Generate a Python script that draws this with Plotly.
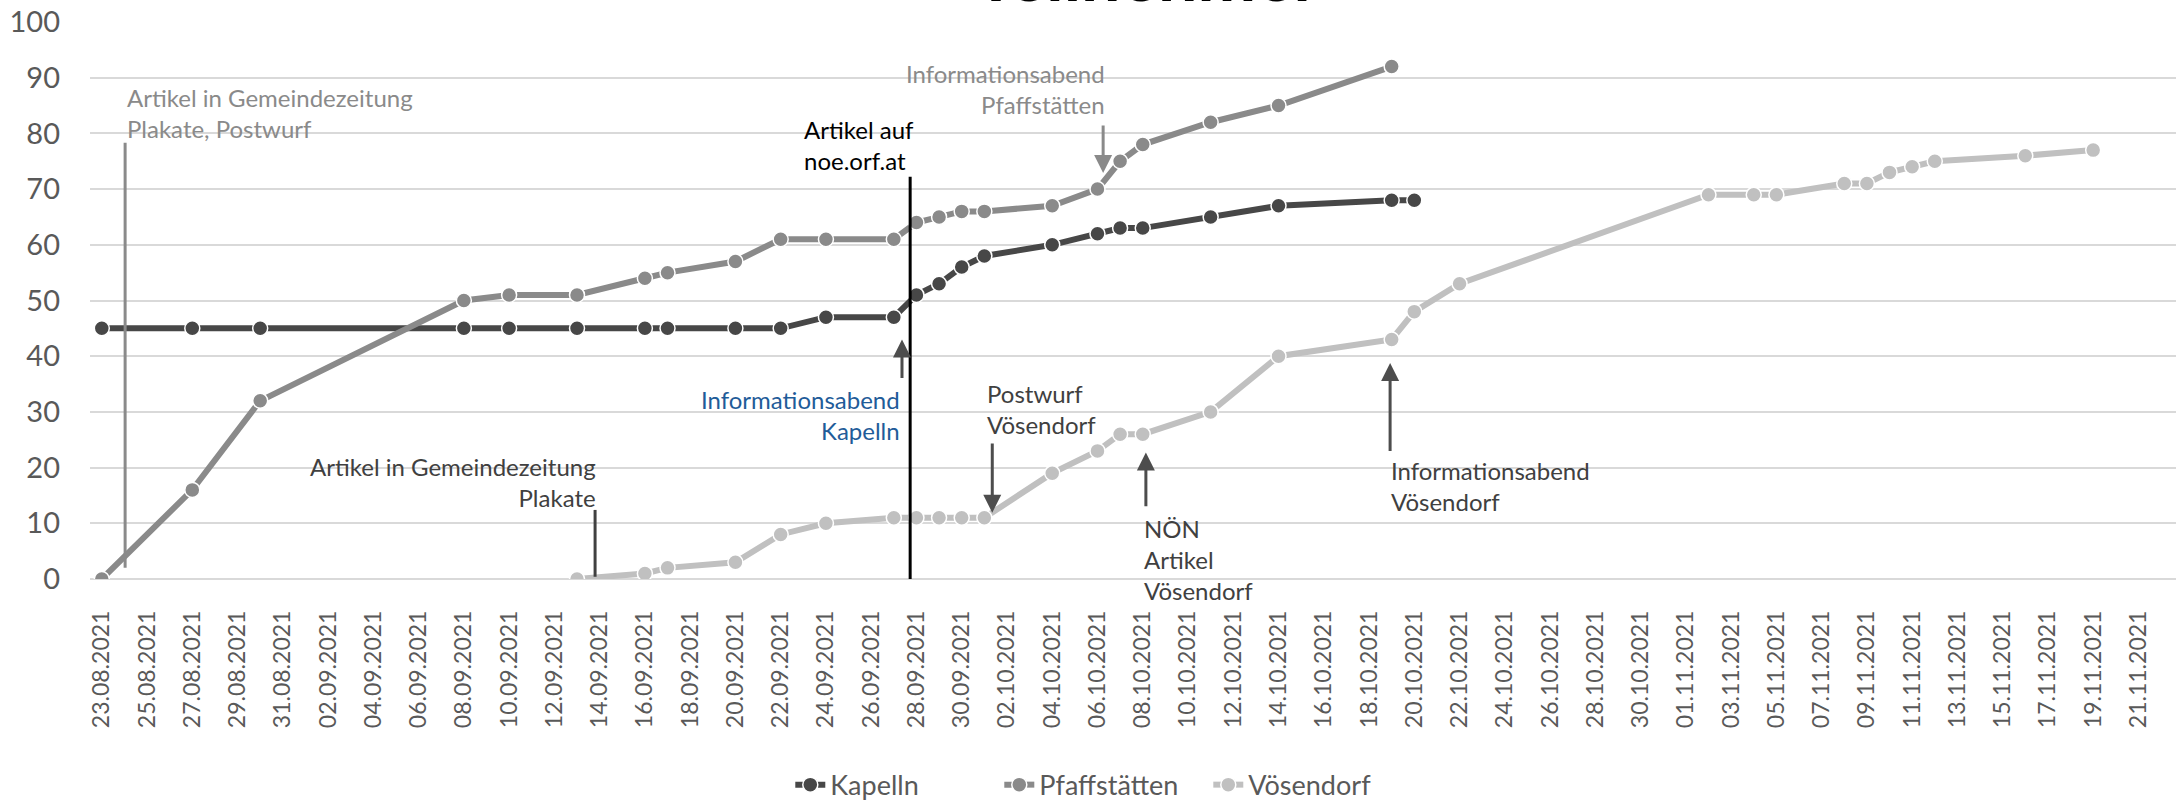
import plotly.graph_objects as go

kapelln_dates = ["2021-08-23", "2021-08-27", "2021-08-30", "2021-09-08", "2021-09-10", "2021-09-13",
                 "2021-09-16", "2021-09-17", "2021-09-20", "2021-09-22", "2021-09-24", "2021-09-27",
                 "2021-09-28", "2021-09-29", "2021-09-30", "2021-10-01", "2021-10-04", "2021-10-06",
                 "2021-10-07", "2021-10-08", "2021-10-11", "2021-10-14", "2021-10-19", "2021-10-20"]
kapelln_values = [45, 45, 45, 45, 45, 45, 45, 45, 45, 45, 47, 47, 51, 53, 56, 58, 60, 62, 63, 63, 65, 67, 68, 68]

pfaff_dates = ["2021-08-23", "2021-08-27", "2021-08-30", "2021-09-08", "2021-09-10", "2021-09-13",
               "2021-09-16", "2021-09-17", "2021-09-20", "2021-09-22", "2021-09-24", "2021-09-27",
               "2021-09-28", "2021-09-29", "2021-09-30", "2021-10-01", "2021-10-04", "2021-10-06",
               "2021-10-07", "2021-10-08", "2021-10-11", "2021-10-14", "2021-10-19"]
pfaff_values = [0, 16, 32, 50, 51, 51, 54, 55, 57, 61, 61, 61, 64, 65, 66, 66, 67, 70, 75, 78, 82, 85, 92]

voes_dates = ["2021-09-13", "2021-09-16", "2021-09-17", "2021-09-20", "2021-09-22", "2021-09-24",
              "2021-09-27", "2021-09-28", "2021-09-29", "2021-09-30", "2021-10-01", "2021-10-04",
              "2021-10-06", "2021-10-07", "2021-10-08", "2021-10-11", "2021-10-14", "2021-10-19",
              "2021-10-20", "2021-10-22", "2021-11-02", "2021-11-04", "2021-11-05", "2021-11-08",
              "2021-11-09", "2021-11-10", "2021-11-11", "2021-11-12", "2021-11-16", "2021-11-19"]
voes_values = [0, 1, 2, 3, 8, 10, 11, 11, 11, 11, 11, 19, 23, 26, 26, 30, 40, 43, 48, 53,
               69, 69, 69, 71, 71, 73, 74, 75, 76, 77]

series_names = ["Kapelln", "Pfaffstätten", "Vösendorf"]
series_colors = ["#474747", "#8a8a8a", "#c0c0c0"]

FONT = "Lato"
TXT = "#595959"

fig = go.Figure()
for name, xs, ys, col in zip(series_names, [kapelln_dates, pfaff_dates, voes_dates],
                             [kapelln_values, pfaff_values, voes_values], series_colors):
    fig.add_trace(go.Scatter(
        x=xs, y=ys, name=name, mode="lines+markers",
        line=dict(color=col, width=6),
        marker=dict(color=col, size=15, line=dict(color="white", width=1.5)),
    ))

# text annotations: (text, x, y, xanchor, align, color)
notes = [
    ("Artikel in Gemeindezeitung<br>Plakate, Postwurf", "2021-08-24 00:45", 83.6, "left", "left", "#8a8a8a"),
    ("Artikel auf<br>noe.orf.at", "2021-09-22 22:48", 78.0, "left", "left", "#000000"),
    ("Informationsabend<br>Pfaffstätten", "2021-10-06 10:00", 88.0, "right", "right", "#8a8a8a"),
    ("Informationsabend<br>Kapelln", "2021-09-27 08:30", 29.4, "right", "right", "#1F5C99"),
    ("Artikel in Gemeindezeitung<br>Plakate", "2021-09-13 22:20", 17.4, "right", "right", "#404040"),
    ("Postwurf<br>Vösendorf", "2021-10-01 00:40", 30.6, "left", "left", "#404040"),
    ("NÖN<br>Artikel<br>Vösendorf", "2021-10-07 23:20", 3.5, "left", "left", "#404040"),
    ("Informationsabend<br>Vösendorf", "2021-10-18 20:50", 16.7, "left", "left", "#404040"),
]
for text, x, y, xa, al, col in notes:
    fig.add_annotation(x=x, y=y, xref="x", yref="y", text=text, showarrow=False,
                       xanchor=xa, yanchor="middle", align=al,
                       font=dict(family=FONT, size=24, color=col))

# plain lines
lines = [
    ("2021-08-24 00:45", 78.3, 2.0, "#8a8a8a"),
    ("2021-09-27 17:20", 72.2, -0.7, "#000000"),
    ("2021-09-13 19:10", 12.4, 0.4, "#404040"),
]
for x, y0, y1, col in lines:
    fig.add_shape(type="line", xref="x", yref="y", x0=x, x1=x, y0=y0, y1=y1,
                  line=dict(color=col, width=3))

# arrows: (x, tail_y, head_y, color)
arrows = [
    ("2021-10-06 06:00", 81.7, 72.9, "#8a8a8a"),
    ("2021-09-27 08:40", 35.8, 43.0, "#4d4d4d"),
    ("2021-10-01 08:25", 24.6, 11.9, "#4d4d4d"),
    ("2021-10-08 03:20", 12.8, 22.7, "#4d4d4d"),
    ("2021-10-18 22:20", 22.7, 38.8, "#4d4d4d"),
]
for x, ty, hy, col in arrows:
    fig.add_annotation(x=x, y=hy, ax=x, ay=ty, xref="x", yref="y", axref="x", ayref="y",
                       text="", showarrow=True, arrowhead=2, arrowsize=1.2, arrowwidth=3,
                       arrowcolor=col, standoff=0, startstandoff=0)

# title (clipped at top as in reference)
fig.add_annotation(x=0.507, y=1.007, xref="paper", yref="paper", text="<b>Teilnehmer</b>",
                   showarrow=False, xanchor="center", yanchor="bottom",
                   font=dict(family=FONT, size=70, color="#000000"))

fig.update_layout(
    width=2176, height=802,
    margin=dict(l=90, r=0, t=22, b=223, autoexpand=False),
    paper_bgcolor="white", plot_bgcolor="white",
    font=dict(family=FONT, color=TXT),
    showlegend=True,
    legend=dict(orientation="h", x=0.486, xanchor="center", y=-0.37, yanchor="middle",
                font=dict(family=FONT, size=27, color=TXT), entrywidth=164,
                entrywidthmode="pixels", tracegroupgap=0),
    xaxis=dict(
        type="date", automargin=False,
        range=["2021-08-22 11:30", "2021-11-22 15:50"],
        tick0="2021-08-23", dtick=2 * 86400000, tickformat="%d.%m.%Y",
        tickangle=-90, tickfont=dict(family=FONT, size=23, color=TXT),
        showgrid=False, zeroline=False, showline=False, ticks="",
        ticklabelstandoff=26,
    ),
    yaxis=dict(
        range=[0, 100], dtick=10, tick0=0, automargin=False,
        tickfont=dict(family=FONT, size=29, color=TXT),
        showgrid=True, gridcolor="#d9d9d9", gridwidth=2,
        zeroline=True, zerolinecolor="#d9d9d9", zerolinewidth=2,
        showline=False, ticks="", ticklabelstandoff=29,
    ),
)

fig.write_html("out.html", config={"displayModeBar": False},
               post_script="document.body.style.margin='0';document.body.style.overflow='hidden';")
